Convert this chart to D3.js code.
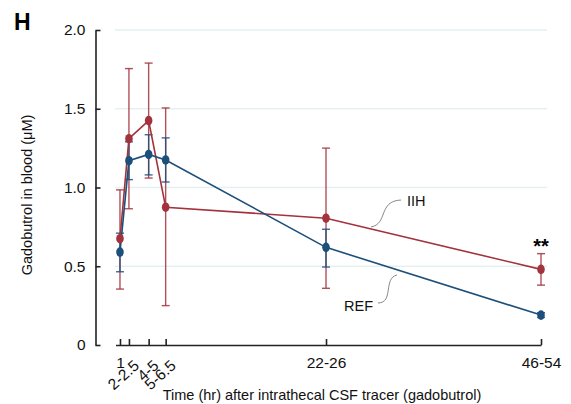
<!DOCTYPE html>
<html>
<head>
<meta charset="utf-8">
<script src="https://cdn.jsdelivr.net/npm/d3@7"></script>
<style>
  body { margin: 0; background: #fff; }
  svg { font-family: "Liberation Sans", Arial, sans-serif; }
</style>
</head>
<body>
<svg width="571" height="404"></svg>
<script>
// time points (hr) and their tick labels
const times = [1, 2, 4.2, 6.1, 24, 48];
const timeLabels = ['1', '2-2.5', '4-5', '5-6.5', '22-26', '46-54'];

// REF group: mean, upper, lower
const refMean = [0.59, 1.17, 1.21, 1.175, 0.62, 0.19];
const refHi   = [0.71, 1.29, 1.335, 1.315, 0.735, 0.205];
const refLo   = [0.465, 1.05, 1.08, 1.035, 0.495, 0.175];

// IIH group
const iihMean = [0.675, 1.31, 1.425, 0.875, 0.805, 0.48];
const iihHi   = [0.985, 1.755, 1.79, 1.505, 1.25, 0.58];
const iihLo   = [0.355, 0.865, 1.06, 0.25, 0.36, 0.38];

const yTicks = [0, 0.5, 1.0, 1.5, 2.0];

const svg = d3.select('svg');
const red = '#a2333d';
const blue = '#1c4f7b';

const x = d3.scaleLinear().domain([0.5, 48]).range([115.5, 541]);
const y = d3.scaleLinear().domain([0, 2]).range([345, 30]);

// gridlines
svg.append('g')
  .selectAll('line')
  .data(yTicks.filter(d => d > 0))
  .join('line')
  .attr('x1', 115).attr('x2', 547)
  .attr('y1', d => y(d)).attr('y2', d => y(d))
  .attr('stroke', '#e4f1f1')
  .attr('stroke-width', 1.5);

// y axis
const yAxis = svg.append('g')
  .attr('transform', 'translate(95.5,0)')
  .call(d3.axisLeft(y).tickValues(yTicks)
    .tickFormat(d => d === 0 ? '0' : d3.format('.1f')(d))
    .tickSizeInner(-5).tickSizeOuter(0).tickPadding(10));
yAxis.select('.domain').attr('stroke', '#222').attr('stroke-width', 1.6);
yAxis.selectAll('.tick line').attr('stroke', '#222').attr('stroke-width', 1.6);
yAxis.selectAll('text').attr('font-size', 15.5).attr('fill', '#111');

// x axis
const xAxis = svg.append('g')
  .attr('transform', 'translate(0,345)')
  .call(d3.axisBottom(x).tickValues(times)
    .tickFormat((d, i) => timeLabels[i])
    .tickSizeInner(-6).tickSizeOuter(0).tickPadding(12));
xAxis.select('.domain').attr('stroke', '#222').attr('stroke-width', 1.6);
xAxis.selectAll('.tick line').attr('stroke', '#222').attr('stroke-width', 1.6);
xAxis.selectAll('text').attr('font-size', 15.5).attr('fill', '#111');
xAxis.selectAll('.tick text')
  .filter((d, i) => i >= 1 && i <= 3)
  .attr('text-anchor', 'end')
  .attr('dy', '0.35em')
  .attr('transform', 'translate(7,18) rotate(-42)')
  .attr('y', 0).attr('x', 0);

// axis titles
svg.append('text')
  .attr('x', 322).attr('y', 400)
  .attr('text-anchor', 'middle')
  .attr('font-size', 14.5)
  .attr('fill', '#111')
  .text('Time (hr) after intrathecal CSF tracer (gadobutrol)');

svg.append('text')
  .attr('transform', 'translate(32,195) rotate(-90)')
  .attr('text-anchor', 'middle')
  .attr('font-size', 14.5)
  .attr('fill', '#111')
  .text('Gadobutrol in blood (μM)');

svg.append('text')
  .attr('x', 14).attr('y', 30)
  .attr('font-size', 23)
  .attr('font-weight', 'bold')
  .text('H');

function series(mean, hi, lo) {
  return times.map((t, i) => ({t: t, m: mean[i], hi: hi[i], lo: lo[i]}));
}
const groups = [
  {name: 'IIH', color: red, data: series(iihMean, iihHi, iihLo)},
  {name: 'REF', color: blue, data: series(refMean, refHi, refLo)}
];

// error bars
groups.forEach(g => {
  const eb = svg.append('g').attr('stroke', g.color).attr('stroke-width', 1.4)
    .attr('stroke-opacity', 0.85);
  eb.selectAll('line.v').data(g.data).join('line').attr('class', 'v')
    .attr('x1', d => x(d.t)).attr('x2', d => x(d.t))
    .attr('y1', d => y(d.hi)).attr('y2', d => y(d.lo));
  ['hi', 'lo'].forEach(k => {
    eb.selectAll('line.' + k).data(g.data).join('line').attr('class', k)
      .attr('x1', d => x(d.t) - 4).attr('x2', d => x(d.t) + 4)
      .attr('y1', d => y(d[k])).attr('y2', d => y(d[k]));
  });
});

// lines
const line = d3.line().x(d => x(d.t)).y(d => y(d.m));
groups.forEach(g => {
  svg.append('path')
    .datum(g.data)
    .attr('fill', 'none')
    .attr('stroke', g.color)
    .attr('stroke-width', 1.6)
    .attr('d', line);
});

// markers
groups.forEach(g => {
  svg.append('g')
    .selectAll('ellipse')
    .data(g.data)
    .join('ellipse')
    .attr('cx', d => x(d.t)).attr('cy', d => y(d.m))
    .attr('rx', 3.8).attr('ry', 4.8)
    .attr('fill', g.color);
});

// series labels with leader curves
svg.append('path')
  .attr('d', 'M371,227 C388,224 378,201 401,200')
  .attr('fill', 'none').attr('stroke', '#888').attr('stroke-width', 1);
svg.append('text')
  .attr('x', 407).attr('y', 206)
  .attr('font-size', 14.5).attr('fill', '#111')
  .text('IIH');

svg.append('path')
  .attr('d', 'M378,303 C394,303 383,278 397,275')
  .attr('fill', 'none').attr('stroke', '#888').attr('stroke-width', 1);
svg.append('text')
  .attr('x', 373).attr('y', 311)
  .attr('text-anchor', 'end')
  .attr('font-size', 14.5).attr('fill', '#111')
  .text('REF');

// significance marker
svg.append('text')
  .attr('x', x(48)).attr('y', 253)
  .attr('text-anchor', 'middle')
  .attr('font-size', 20).attr('font-weight', 'bold')
  .text('**');
</script>
</body>
</html>
